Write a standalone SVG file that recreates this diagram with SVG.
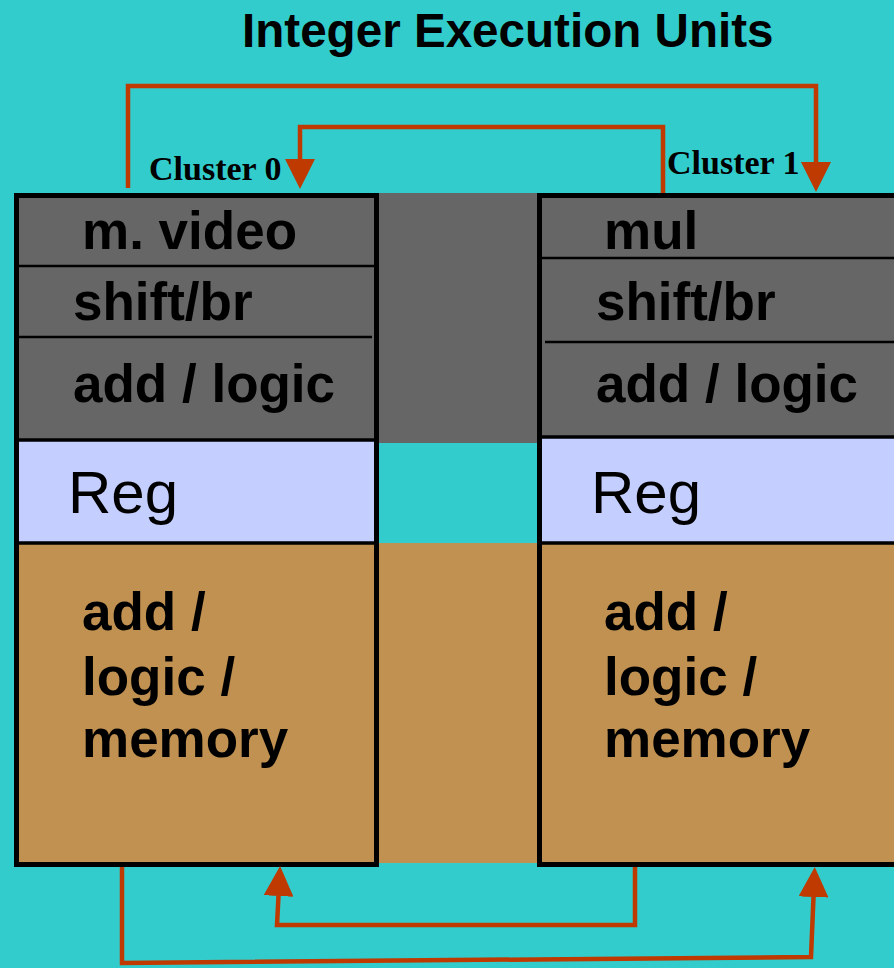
<svg xmlns="http://www.w3.org/2000/svg" width="894" height="968" viewBox="0 0 894 968">
<defs>
<style>
.bg{fill:#33CCCC}
.gray{fill:#666666}
.reg{fill:#C4CEFF}
.brown{fill:#C09150}
.box{fill:none;stroke:#000;stroke-width:5}
.div{stroke:#000;stroke-width:2.5}
.sep{stroke:#000;stroke-width:3.5}
.t{font-family:"Liberation Sans",Arial,sans-serif;font-weight:bold;font-size:53px;fill:#000}
.r{font-family:"Liberation Sans",Arial,sans-serif;font-size:60px;fill:#000}
.title{font-family:"Liberation Sans",Arial,sans-serif;font-weight:bold;font-size:47.6px;fill:#000}
.cl{font-family:"Liberation Serif","Times New Roman",serif;font-weight:bold;font-size:34px;fill:#000}
.wire{fill:none;stroke:#BF3A00;stroke-width:4.5;stroke-linejoin:miter}
</style>
<marker id="ah" markerUnits="userSpaceOnUse" markerWidth="30" markerHeight="30" viewBox="0 0 28 28" refX="0" refY="14" orient="auto">
<path d="M0,0 L28,14 L0,28 Z" fill="#BF3A00"/>
</marker>
</defs>
<rect class="bg" x="0" y="0" width="894" height="968"/>
<text class="title" x="242" y="47">Integer Execution Units</text>

<g id="middle">
<rect class="gray" x="376" y="193" width="164" height="250"/>
<rect class="brown" x="376" y="543" width="164" height="320"/>
</g>

<g id="cluster0">
<rect class="gray" x="17" y="195" width="359" height="244"/>
<rect class="reg" x="17" y="439" width="359" height="104"/>
<rect class="brown" x="17" y="543" width="359" height="321"/>
<line class="div" x1="17" y1="266" x2="376" y2="266"/>
<line class="div" x1="17" y1="337" x2="372" y2="337"/>
<line class="sep" x1="17" y1="440" x2="376" y2="440"/>
<line class="sep" x1="17" y1="543" x2="376" y2="543"/>
<rect class="box" x="16.5" y="195.5" width="360" height="669"/>
<text class="t" x="82" y="249">m. video</text>
<text class="t" x="73" y="320">shift/br</text>
<text class="t" x="73" y="402">add / logic</text>
<text class="r" x="68" y="513">Reg</text>
<text class="t" x="82" y="630">add /</text>
<text class="t" x="82" y="695">logic /</text>
<text class="t" x="82" y="757">memory</text>
<text class="cl" x="149" y="180">Cluster 0</text>
</g>

<g id="cluster1">
<rect class="gray" x="540" y="195" width="360" height="242"/>
<rect class="reg" x="540" y="437" width="360" height="106"/>
<rect class="brown" x="540" y="543" width="360" height="321"/>
<line class="div" x1="540" y1="258" x2="900" y2="258"/>
<line class="div" x1="545" y1="342" x2="900" y2="342"/>
<line class="sep" x1="540" y1="437" x2="900" y2="437"/>
<line class="sep" x1="540" y1="543" x2="900" y2="543"/>
<rect class="box" x="539.5" y="195.5" width="380" height="669"/>
<text class="t" x="604" y="249">mul</text>
<text class="t" x="596" y="320">shift/br</text>
<text class="t" x="596" y="402">add / logic</text>
<text class="r" x="591" y="513">Reg</text>
<text class="t" x="604" y="630">add /</text>
<text class="t" x="604" y="695">logic /</text>
<text class="t" x="604" y="757">memory</text>
<text class="cl" x="667" y="174">Cluster 1</text>
</g>

<g id="connectors">
<polyline class="wire" points="128,188 128,86 816,86 816,162" marker-end="url(#ah)"/>
<polyline class="wire" points="663,193 663,127 300,127 300,159" marker-end="url(#ah)"/>
<polyline class="wire" points="635,867 635,925 277,925 278.5,896" marker-end="url(#ah)"/>
<polyline class="wire" points="122,867 122,963 811,957 813.5,897" marker-end="url(#ah)"/>
</g>
</svg>
